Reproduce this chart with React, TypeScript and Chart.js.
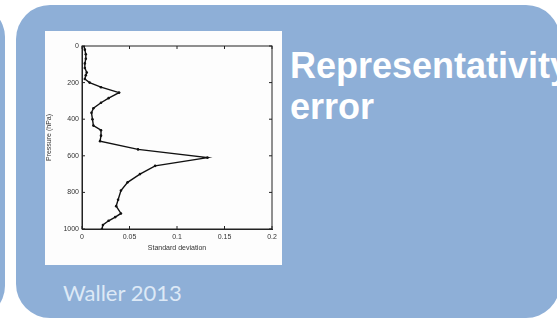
import React, { useEffect, useRef } from "react";
import { Chart, registerables } from "chart.js";

Chart.register(...registerables);

// Pressure levels (hPa) and standard deviation of representativity error
const pressureLevels = [0, 20, 45, 70, 95, 120, 145, 160, 180, 200, 225, 255, 285, 310, 340, 365, 400, 435, 460, 490, 520, 565, 610, 655, 700, 745, 790, 840, 875, 915, 935, 955, 978, 1000];
const stdDeviation = [0.002, 0.003, 0.004, 0.004, 0.003, 0.003, 0.005, 0.004, 0.003, 0.008, 0.02, 0.039, 0.028, 0.02, 0.012, 0.01, 0.011, 0.012, 0.02, 0.02, 0.019, 0.059, 0.132, 0.077, 0.061, 0.048, 0.041, 0.038, 0.036, 0.041, 0.035, 0.028, 0.022, 0.021];

const xAxisTitle = "Standard deviation";
const yAxisTitle = "Pressure (hPa)";
const headline = ["Representativity", "error"];
const citation = "Waller 2013";

const fmt = (v: any) => String(Math.round(Number(v) * 1000) / 1000);

const inwardTicks = {
  id: "inwardTicks",
  afterDraw(chart: any) {
    const { ctx, chartArea, scales } = chart;
    const { left, right, top, bottom } = chartArea;
    const x = scales.x;
    const y = scales.y;
    ctx.save();
    ctx.strokeStyle = "#222";
    ctx.lineWidth = 1;
    ctx.strokeRect(left, top, right - left, bottom - top);
    ctx.beginPath();
    x.ticks.forEach((t: any) => {
      const px = x.getPixelForValue(t.value);
      ctx.moveTo(px, bottom);
      ctx.lineTo(px, bottom - 3);
      ctx.moveTo(px, top);
      ctx.lineTo(px, top + 3);
    });
    y.ticks.forEach((t: any) => {
      const py = y.getPixelForValue(t.value);
      ctx.moveTo(left, py);
      ctx.lineTo(left + 3, py);
      ctx.moveTo(right, py);
      ctx.lineTo(right - 3, py);
    });
    ctx.stroke();
    ctx.restore();
  },
};

function ProfileChart() {
  const ref = useRef<HTMLCanvasElement>(null);
  useEffect(() => {
    if (!ref.current) return;
    const points = pressureLevels.map((p, i) => ({ x: stdDeviation[i], y: p }));
    const chart = new Chart(ref.current, {
      type: "line",
      data: {
        datasets: [
          {
            data: points,
            borderColor: "#111",
            backgroundColor: "#111",
            borderWidth: 1.4,
            pointRadius: 1.3,
            pointBorderWidth: 0,
            tension: 0,
            fill: false,
          },
        ],
      },
      options: {
        animation: false,
        responsive: false,
        maintainAspectRatio: false,
        devicePixelRatio: 1,
        layout: { padding: { top: 15, right: 10, left: 0, bottom: 13 } },
        plugins: { legend: { display: false }, tooltip: { enabled: false } },
        scales: {
          x: {
            type: "linear",
            min: 0,
            max: 0.2,
            ticks: { stepSize: 0.05, color: "#333", font: { family: "Liberation Sans", size: 7 }, padding: 4, maxRotation: 0, callback: (v: any) => fmt(v) },
            grid: { display: true, drawOnChartArea: false, drawTicks: false },
            border: { display: true, color: "#222" },
            title: { display: true, text: xAxisTitle, color: "#333", font: { family: "Liberation Sans", size: 7 }, padding: { top: 1, bottom: 0 } },
            afterFit: (s: any) => {
              s.height = 23;
            },
          },
          y: {
            type: "linear",
            reverse: true,
            min: 0,
            max: 1000,
            ticks: { stepSize: 200, color: "#333", font: { family: "Liberation Sans", size: 7 }, padding: 3, callback: (v: any) => fmt(v) },
            grid: { display: true, drawOnChartArea: false, drawTicks: false },
            border: { display: true, color: "#222" },
            title: { display: true, text: yAxisTitle, color: "#333", font: { family: "Liberation Sans", size: 7 }, padding: { top: 0, bottom: 1 } },
            afterFit: (s: any) => {
              s.width = 37;
            },
          },
        },
      },
      plugins: [inwardTicks],
    });
    return () => chart.destroy();
  }, []);
  return <canvas ref={ref} width={237} height={234} style={{ display: "block", width: 237, height: 234 }} />;
}

export default function App() {
  const blue = "#8eafd7";
  return (
    <div style={{ position: "fixed", left: 0, top: 0, width: 557, height: 322, overflow: "hidden", background: "#ffffff" }}>
      <div style={{ position: "absolute", left: -300, top: 5, width: 305, height: 313, borderRadius: 32, background: blue }} />
      <div style={{ position: "absolute", left: 16, top: 5, width: 544, height: 313, borderRadius: 34, background: blue }} />
      <div style={{ position: "absolute", left: 45, top: 31, width: 237, height: 234, background: "#fdfdfd" }}>
        <ProfileChart />
      </div>
      <div
        style={{
          position: "absolute",
          left: 290,
          top: 45,
          color: "#ffffff",
          fontFamily: "'Liberation Sans', Arial, sans-serif",
          fontWeight: 700,
          fontSize: 36,
          lineHeight: "41px",
          whiteSpace: "nowrap",
        }}
      >
        <div>{headline[0]}</div>
        <div>{headline[1]}</div>
      </div>
      <div
        style={{
          position: "absolute",
          left: 63,
          top: 280,
          color: "#dde9f6",
          fontFamily: "Lato, 'Open Sans', sans-serif",
          fontSize: 22,
          lineHeight: "26px",
          whiteSpace: "nowrap",
        }}
      >
        {citation}
      </div>
    </div>
  );
}
